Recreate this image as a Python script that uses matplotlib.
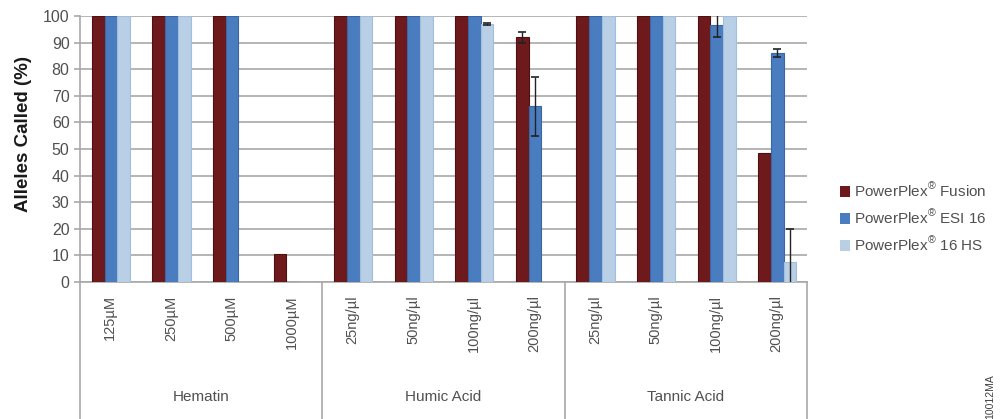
import numpy as np
import matplotlib
matplotlib.use('Agg')
import matplotlib.pyplot as plt
from matplotlib.patches import Patch

plt.rcParams['font.family'] = ['Liberation Sans', 'DejaVu Sans']
plt.rcParams['mathtext.fontset'] = 'custom'
plt.rcParams['mathtext.rm'] = 'Liberation Sans'

groups = ['Hematin', 'Humic Acid', 'Tannic Acid']
conc = ['125\u00b5M', '250\u00b5M', '500\u00b5M', '1000\u00b5M',
        '25ng/\u00b5l', '50ng/\u00b5l', '100ng/\u00b5l', '200ng/\u00b5l',
        '25ng/\u00b5l', '50ng/\u00b5l', '100ng/\u00b5l', '200ng/\u00b5l']

fusion = [100, 100, 100, 10.5, 100, 100, 100, 92, 100, 100, 100, 48.5]
esi16 = [100, 100, 100, 0, 100, 100, 100, 66, 100, 100, 96.5, 86]
hs16 = [100, 100, 0, 0, 100, 100, 97, 0, 100, 100, 100, 7.5]

fusion_err = [0, 0, 0, 0, 0, 0, 0, 2, 0, 0, 0, 0]
esi16_err = [0, 0, 0, 0, 0, 0, 0, 11, 0, 0, 4.5, 1.5]
hs16_err = [0, 0, 0, 0, 0, 0, 0.5, 0, 0, 0, 0, 12.5]

names = ['PowerPlex$^{\\mathrm{\u00ae}}$ Fusion', 'PowerPlex$^{\\mathrm{\u00ae}}$ ESI 16',
         'PowerPlex$^{\\mathrm{\u00ae}}$ 16 HS']
colors = ['#6e1a1c', '#4a7cc0', '#b8cfe6']
edges = ['#4e1012', '#3a66a4', '#a3bedb']

txt = '#505050'
grid = '#a8a8a8'

fig = plt.figure(figsize=(10.05, 4.19), dpi=100)
W, H = 1005, 419
ax = fig.add_axes([80 / W, 1 - 282 / H, (807 - 80) / W, (282 - 16) / H])

x = np.arange(len(conc))
w = 0.21
series = [(fusion, fusion_err), (esi16, esi16_err), (hs16, hs16_err)]
for i, (vals, err) in enumerate(series):
    pos = x + (i - 1) * w + 0.01
    ax.bar(pos, vals, w, color=colors[i], edgecolor=edges[i], linewidth=0.8, zorder=3)
    e = np.array(err)
    m = e > 0
    ax.errorbar(pos[m], np.array(vals)[m], yerr=e[m], fmt='none', ecolor='#222222',
                elinewidth=1, capsize=3, capthick=1.2, zorder=4)

ax.set_xlim(-0.5, len(conc) - 0.5)
ax.set_ylim(0, 100)
ax.set_yticks(range(0, 101, 10))
ax.yaxis.grid(True, color=grid, linewidth=1.2, zorder=0)
ax.tick_params(axis='y', colors=grid, labelcolor=txt, labelsize=11.5, length=4, width=1.2)
ax.set_xticks([])
for s in ['top', 'right']:
    ax.spines[s].set_visible(False)
for s in ['left', 'bottom']:
    ax.spines[s].set_color(grid)
    ax.spines[s].set_linewidth(1.2)

# category labels and group boxes below the axis
trans = ax.get_xaxis_transform()
for xi, lab in zip(x, conc):
    ax.text(xi, -0.05, lab, rotation=90, ha='center', va='top', fontsize=10.5,
            color=txt, transform=trans, clip_on=False)
for k, g in enumerate(groups):
    ax.text(4 * k + 1.5, -0.432, g, ha='center', va='center', fontsize=11,
            color=txt, transform=trans, clip_on=False)
for b in [-0.5, 3.5, 7.5, 11.5]:
    ax.plot([b, b], [0, -0.6], color=grid, linewidth=1.2, transform=trans, clip_on=False)

fig.text(24 / W, 1 - 134 / H, 'Alleles Called (%)', rotation=90, ha='center', va='center',
         fontsize=13.5, fontweight='bold', color='#1a1a1a')

handles = [Patch(facecolor=c, edgecolor='none') for c in colors]
fig.legend(handles, names, loc='upper left', bbox_to_anchor=(826 / W, 1 - 168 / H),
           frameon=False, fontsize=11, handlelength=0.7, handleheight=0.7,
           handletextpad=0.2, labelspacing=0.55, labelcolor=txt)

fig.text(990 / W, 0.0, '10012MA', rotation=90, ha='center', va='bottom', fontsize=7.5,
         color='#404040')

fig.savefig('out.png', dpi=100)
